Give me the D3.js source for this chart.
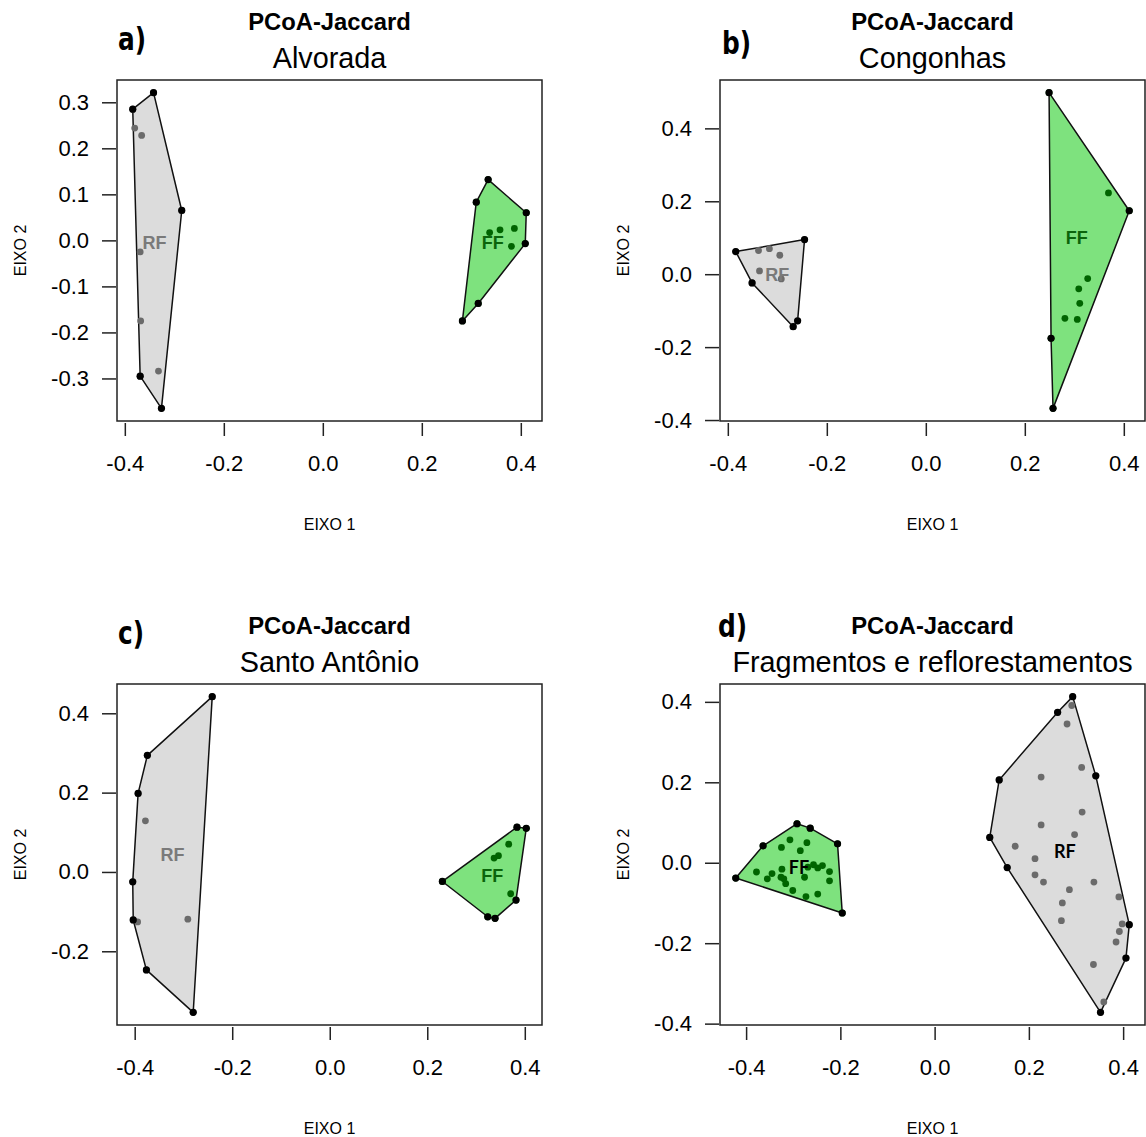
<!DOCTYPE html>
<html>
<head>
<meta charset="utf-8">
<script src="https://cdn.jsdelivr.net/npm/d3@7"></script>
<style>
  body { margin: 0; background: #fff; }
  svg { display: block; }
</style>
</head>
<body>
<div id="chart"></div>
<script>
// PCoA scores (EIXO 1, EIXO 2), one array per site and group
var alvoradaRF = [[-0.342, 0.321], [-0.384, 0.285], [-0.285, 0.065], [-0.369, -0.295], [-0.326, -0.365],
    [-0.380, 0.244], [-0.366, 0.228], [-0.369, -0.025], [-0.368, -0.175], [-0.332, -0.284]];
var alvoradaFF = [[0.334, 0.132], [0.310, 0.083], [0.411, 0.060], [0.409, -0.007], [0.314, -0.137], [0.282, -0.175],
    [0.337, 0.017], [0.358, 0.023], [0.387, 0.026], [0.381, -0.013]];

var congonhasRF = [[-0.384, 0.062], [-0.245, 0.095], [-0.259, -0.128], [-0.268, -0.144], [-0.351, -0.024],
    [-0.338, 0.065], [-0.316, 0.070], [-0.295, 0.052], [-0.336, 0.009], [-0.292, -0.013]];
var congonhasFF = [[0.249, 0.498], [0.411, 0.174], [0.257, -0.368], [0.253, -0.176],
    [0.369, 0.223], [0.327, -0.012], [0.309, -0.040], [0.311, -0.080], [0.281, -0.121], [0.306, -0.124]];

var santoAntonioRF = [[-0.241, 0.442], [-0.374, 0.294], [-0.393, 0.198], [-0.404, -0.025], [-0.403, -0.121],
    [-0.376, -0.247], [-0.280, -0.354], [-0.378, 0.129], [-0.394, -0.126], [-0.291, -0.119]];
var santoAntonioFF = [[0.231, -0.024], [0.384, 0.113], [0.403, 0.110], [0.382, -0.071], [0.339, -0.117],
    [0.324, -0.113], [0.367, 0.070], [0.346, 0.041], [0.337, 0.035], [0.371, -0.055]];

var todosFF = [[-0.422, -0.038], [-0.364, 0.042], [-0.292, 0.097], [-0.264, 0.086], [-0.206, 0.047], [-0.196, -0.125],
    [-0.307, 0.057], [-0.271, 0.050], [-0.325, 0.038], [-0.285, 0.030], [-0.378, -0.023], [-0.345, -0.027],
    [-0.355, -0.040], [-0.324, -0.016], [-0.326, -0.036], [-0.320, -0.040], [-0.316, -0.052], [-0.301, -0.069],
    [-0.276, -0.036], [-0.269, -0.011], [-0.257, -0.005], [-0.248, -0.013], [-0.238, -0.007], [-0.223, -0.022],
    [-0.223, -0.045], [-0.248, -0.078], [-0.273, -0.084]];
var todosRF = [[0.293, 0.413], [0.261, 0.374], [0.137, 0.206], [0.117, 0.063], [0.154, -0.012], [0.352, -0.372],
    [0.406, -0.237], [0.413, -0.154], [0.342, 0.216],
    [0.291, 0.391], [0.281, 0.345], [0.312, 0.237], [0.226, 0.213], [0.313, 0.126], [0.226, 0.094],
    [0.297, 0.070], [0.171, 0.041], [0.213, 0.010], [0.213, -0.030], [0.231, -0.048], [0.338, -0.048],
    [0.286, -0.067], [0.271, -0.100], [0.269, -0.144], [0.391, -0.085], [0.398, -0.152], [0.392, -0.171],
    [0.385, -0.197], [0.337, -0.253], [0.359, -0.346]];

var panelLetters = ["a)", "b)", "c)", "d)"];
var siteNames = ["Alvorada", "Congonhas", "Santo Antônio", "Fragmentos e reflorestamentos"];
var xTicks = [-0.4, -0.2, 0.0, 0.2, 0.4];
var yTicksA = [-0.3, -0.2, -0.1, 0.0, 0.1, 0.2, 0.3];
var yTicksB = [-0.4, -0.2, 0.0, 0.2, 0.4];
var yTicksC = [-0.2, 0.0, 0.2, 0.4];
var yTicksD = [-0.4, -0.2, 0.0, 0.2, 0.4];

var plotW = 425, plotH = 341;

var panels = [
    { left: 117, top: 80, rf: alvoradaRF, ff: alvoradaFF, yTicks: yTicksA, tag: [118, 50] },
    { left: 720, top: 80, rf: congonhasRF, ff: congonhasFF, yTicks: yTicksB, tag: [722, 54] },
    { left: 117, top: 684, rf: santoAntonioRF, ff: santoAntonioFF, yTicks: yTicksC, tag: [118, 644] },
    { left: 720, top: 684, rf: todosRF, ff: todosFF, yTicks: yTicksD, tag: [718, 637], darkLabels: true }
];

var svg = d3.select("#chart").append("svg")
    .attr("width", 1146)
    .attr("height", 1137)
    .style("font-family", "Arial, 'Liberation Sans', sans-serif");

var fmt = function (d) { return d.toFixed(1); };

// R style range: data extent padded by 4% on each side
var padExtent = function (vals) {
    var e = d3.extent(vals), p = (e[1] - e[0]) * 0.04;
    return [e[0] - p, e[1] + p];
};

panels.forEach(function (p, i) {
    var all = p.rf.concat(p.ff);
    var x = d3.scaleLinear()
        .domain(padExtent(all.map(function (d) { return d[0]; })))
        .range([p.left, p.left + plotW]);
    var y = d3.scaleLinear()
        .domain(padExtent(all.map(function (d) { return d[1]; })))
        .range([p.top + plotH, p.top]);

    var g = svg.append("g").attr("class", "panel");
    var bottom = p.top + plotH;
    var cx = p.left + plotW / 2;

    // titles
    g.append("text")
        .attr("x", cx).attr("y", p.top - 50)
        .attr("text-anchor", "middle")
        .style("font-weight", "bold").style("font-size", "23.8px")
        .text("PCoA-Jaccard");
    g.append("text")
        .attr("x", cx).attr("y", p.top - 12)
        .attr("text-anchor", "middle")
        .style("font-size", "28.8px")
        .text(siteNames[i]);
    g.append("text")
        .attr("transform", "translate(" + p.tag[0] + "," + p.tag[1] + ") scale(0.92,1.08)")
        .style("font-family", "'Liberation Sans Narrow', 'DejaVu Sans Condensed', sans-serif")
        .style("font-weight", "bold").style("font-size", "30px")
        .text(panelLetters[i]);

    // hulls
    var groups = [
        { pts: p.rf, fill: "#dcdcdc", dot: "#6b6b6b", label: "RF", labelColor: "#7a7a7a" },
        { pts: p.ff, fill: "#7ee27e", dot: "#006400", label: "FF", labelColor: "#0b640b" }
    ];

    groups.forEach(function (grp) {
        var px = grp.pts.map(function (d) { return [x(d[0]), y(d[1])]; });
        var hull = d3.polygonHull(px);
        g.append("path")
            .attr("d", "M" + hull.join("L") + "Z")
            .attr("fill", grp.fill)
            .attr("stroke", "#111")
            .attr("stroke-width", 1.5)
            .attr("stroke-linejoin", "round");
        g.selectAll(null)
            .data(px)
            .enter().append("circle")
            .attr("cx", function (d) { return d[0]; })
            .attr("cy", function (d) { return d[1]; })
            .attr("r", 3.4)
            .attr("fill", grp.dot);
        g.selectAll(null)
            .data(hull)
            .enter().append("circle")
            .attr("cx", function (d) { return d[0]; })
            .attr("cy", function (d) { return d[1]; })
            .attr("r", 3.6)
            .attr("fill", "#000");
        // group label at the hull centroid
        var c = d3.polygonCentroid(hull);
        g.append("text")
            .attr("x", c[0]).attr("y", c[1])
            .attr("dy", "0.36em")
            .attr("text-anchor", "middle")
            .style("font-family", p.darkLabels ? "Lato, 'Open Sans', sans-serif" : null)
            .style("font-weight", "bold")
            .style("font-size", "18px")
            .attr("fill", p.darkLabels ? "#000" : grp.labelColor)
            .text(grp.label);
    });

    // box
    g.append("rect")
        .attr("x", p.left).attr("y", p.top)
        .attr("width", plotW).attr("height", plotH)
        .attr("fill", "none")
        .attr("stroke", "#222").attr("stroke-width", 1.5);

    // x axis
    var xa = g.append("g").attr("transform", "translate(0," + (bottom + 2) + ")")
        .call(d3.axisBottom(x).tickValues(xTicks).tickFormat(fmt).tickSize(13).tickPadding(19));
    xa.select(".domain").remove();
    xa.selectAll(".tick line").attr("stroke", "#222").attr("stroke-width", 1.5);
    xa.selectAll(".tick text").style("font-size", "22px").attr("fill", "#000")
        .style("font-family", "Arial, 'Liberation Sans', sans-serif");

    // y axis
    var ya = g.append("g").attr("transform", "translate(" + (p.left - 1) + ",0)")
        .call(d3.axisLeft(y).tickValues(p.yTicks).tickFormat(fmt).tickSize(14).tickPadding(13));
    ya.select(".domain").remove();
    ya.selectAll(".tick line").attr("stroke", "#222").attr("stroke-width", 1.5);
    ya.selectAll(".tick text").style("font-size", "22px").attr("fill", "#000")
        .style("font-family", "Arial, 'Liberation Sans', sans-serif");

    // axis titles
    g.append("text")
        .attr("x", cx).attr("y", bottom + 109)
        .attr("text-anchor", "middle")
        .style("font-size", "16px")
        .text("EIXO 1");
    g.append("text")
        .attr("transform", "translate(" + (p.left - 91) + "," + (p.top + plotH / 2) + ") rotate(-90)")
        .attr("text-anchor", "middle")
        .style("font-size", "16px")
        .text("EIXO 2");
});
</script>
</body>
</html>
